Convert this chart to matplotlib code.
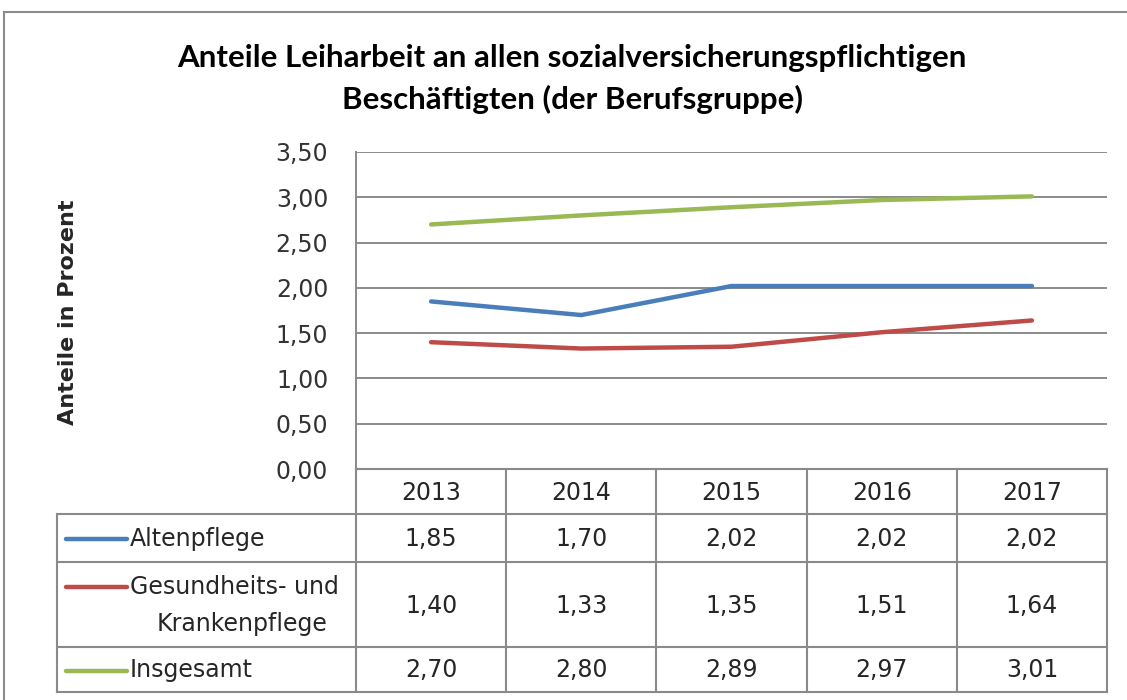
import matplotlib
matplotlib.use('Agg')
import matplotlib.pyplot as plt
from matplotlib.lines import Line2D

# ---- data ----
years = ['2013', '2014', '2015', '2016', '2017']
series_labels = ['Altenpflege', 'Gesundheits- und\nKrankenpflege', 'Insgesamt']
altenpflege = [1.85, 1.70, 2.02, 2.02, 2.02]
gesundheit = [1.40, 1.33, 1.35, 1.51, 1.64]
insgesamt = [2.70, 2.80, 2.89, 2.97, 3.01]
series_values = [altenpflege, gesundheit, insgesamt]
colors = ['#4A7EBB', '#BE4B48', '#98B954']
yticks = [0.0, 0.5, 1.0, 1.5, 2.0, 2.5, 3.0, 3.5]
title = 'Anteile Leiharbeit an allen sozialversicherungspflichtigen\nBeschäftigten (der Berufsgruppe)'
ylabel = 'Anteile in Prozent'

W, H = 1127, 700
fig = plt.figure(figsize=(W / 100, H / 100), dpi=100)
fig.patch.set_facecolor('white')

def fx(px):
    return px / W

def fy(py):
    return 1 - py / H

GRID = '#8A8A8A'
TXT = '#262626'
FS = 17

L, R, T, B = 356, 1107, 152, 469
ax = fig.add_axes([fx(L), fy(B), fx(R) - fx(L), fy(T) - fy(B)])
x = list(range(len(years)))
for vals, c in zip(series_values, colors):
    ax.plot(x, vals, color=c, lw=3.2, solid_capstyle='round', zorder=3)
ax.set_xlim(-0.5, len(years) - 0.5)
ax.set_ylim(0, 3.5)
ax.set_yticks(yticks)
ax.set_yticklabels([f'{v:.2f}'.replace('.', ',') for v in yticks],
                   fontsize=FS, color='#333333', family='DejaVu Sans')
ax.tick_params(axis='y', length=0, pad=20)
ax.set_xticks([])
ax.grid(axis='y', color=GRID, lw=1.4)
for s in ['top', 'bottom', 'right']:
    ax.spines[s].set_visible(False)
ax.spines['left'].set_color(GRID)
ax.spines['left'].set_linewidth(1.4)

# ---- data table ----
TL = 57
rows = [469, 514, 562, 647, 692]
colw = (R - L) / len(years)
xmin = -0.5 - (L - TL) / colw
tax = fig.add_axes([fx(TL), fy(rows[-1]), fx(R) - fx(TL), fy(rows[0]) - fy(rows[-1])])
tax.set_xlim(xmin, len(years) - 0.5)
tax.set_ylim(rows[-1], rows[0])
tax.axis('off')

def cat(px):
    return -0.5 - (L - px) / colw

tax.plot([-0.5, len(years) - 0.5], [rows[0], rows[0]], color=GRID, lw=1.5, clip_on=False)
for r in rows[1:]:
    tax.plot([xmin, len(years) - 0.5], [r, r], color=GRID, lw=1.5, clip_on=False)
for i in range(len(years) + 1):
    tax.plot([i - 0.5, i - 0.5], [rows[0], rows[-1]], color=GRID, lw=1.5, clip_on=False)
tax.plot([xmin, xmin], [rows[1], rows[-1]], color=GRID, lw=1.5, clip_on=False)

hy = (rows[0] + rows[1]) / 2 + 1
for i, yr in enumerate(years):
    tax.text(i, hy, yr, ha='center', va='center', fontsize=FS, color=TXT)

for k, (lab, vals, c) in enumerate(zip(series_labels, series_values, colors)):
    yc = (rows[k + 1] + rows[k + 2]) / 2 + 1
    for i, v in enumerate(vals):
        tax.text(i, yc, f'{v:.2f}'.replace('.', ','), ha='center', va='center',
                 fontsize=FS, color=TXT)
    parts = lab.split('\n')
    if len(parts) == 1:
        tax.plot([cat(66), cat(127)], [yc, yc], color=c, lw=3.2, solid_capstyle='round')
        tax.text(cat(130), yc, lab, ha='left', va='center', fontsize=FS, color=TXT)
    else:
        y1, y2 = yc - 19, yc + 19
        tax.plot([cat(66), cat(127)], [y1, y1], color=c, lw=3.2, solid_capstyle='round')
        tax.text(cat(130), y1, parts[0], ha='left', va='center', fontsize=FS, color=TXT)
        tax.text(cat(242), y2, parts[1], ha='center', va='center', fontsize=FS, color=TXT)

# ---- title and axis label ----
fig.text(fx(572), fy(79), title, ha='center', va='center', fontsize=22.5,
         fontweight='bold', family=['Lato', 'DejaVu Sans'],
         color='black', linespacing=1.5)
fig.text(fx(68), fy(312), ylabel, ha='center', va='center', rotation=90,
         fontsize=16, fontweight='bold', color=TXT)

# ---- outer border ----
fig.add_artist(Line2D([fx(4), fx(W)], [fy(12), fy(12)], color='#8C8C8C', lw=1.5))
fig.add_artist(Line2D([fx(4), fx(4)], [fy(12), 0], color='#8C8C8C', lw=1.5))

fig.savefig('out.png', dpi=100, facecolor='white')
